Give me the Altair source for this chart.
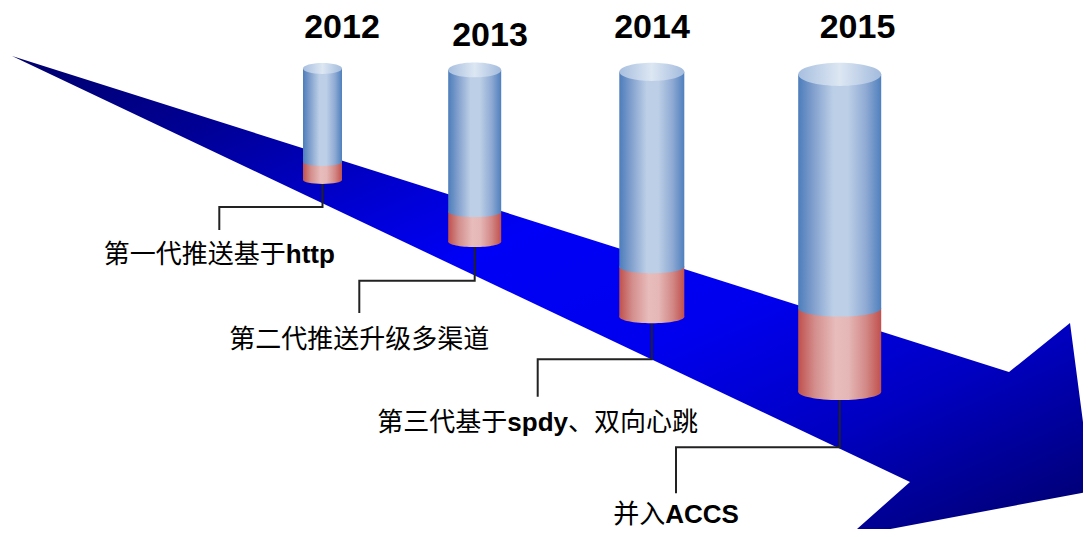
import re
import altair as alt
import pandas as pd

# ---------------- data ----------------
years = ["2012", "2013", "2014", "2015"]
milestones = ["第一代推送基于http", "第二代推送升级多渠道", "第三代基于spdy、双向心跳", "并入ACCS"]

cyl_center = [322.5, 474.7, 651.8, 839.7]
cyl_diameter = [39, 53, 65, 83]
cyl_top = [63.0, 62.5, 62.7, 62.7]
cyl_split = [162.0, 211.7, 266.7, 308.3]
cyl_base = [180.0, 241.7, 316.7, 391.7]

year_x = [342.0, 490.0, 652.0, 857.5]
year_y = [38.3, 46.0, 38.3, 38.3]

elbow_y = [207.0, 280.7, 359.3, 447.3]
label_x = [219.3, 359.3, 537.7, 676.0]
leg_end_y = [230.0, 313.0, 396.7, 493.3]
label_y = [262.5, 347.5, 430.5, 523.0]

arrow_x = [12, 1009, 1070, 1092, 848, 910]
arrow_y = [56, 372, 323, 491, 537, 482]

# ---------------- layout / styles ----------------
W, H = 1075, 521
xs = alt.Scale(domain=[8, 8 + W], nice=False, zero=False)
ys = alt.Scale(domain=[8, 8 + H], nice=False, zero=False, reverse=True)
LID_RATIO = 0.28
BASE_RATIO = 0.2
LID_PATH = f"M -1 0 A 1 {LID_RATIO} 0 1 1 1 0 A 1 {LID_RATIO} 0 1 1 -1 0 Z"
BASE_PATH = f"M -1 0 A 1 {BASE_RATIO} 0 1 1 1 0 A 1 {BASE_RATIO} 0 1 1 -1 0 Z"
LABEL_FS = 26
YEAR_FS = 34
LAT_W = {'h': 0.611, 't': 0.333, 'p': 0.611, 's': 0.556, 'd': 0.611, 'y': 0.556,
         'A': 0.722, 'C': 0.722, 'S': 0.667}


def grad(stops, x2=1, y2=0):
    return alt.LinearGradient(
        gradient="linear",
        stops=[alt.GradientStop(color=c, offset=o) for o, c in stops],
        x1=0, y1=0, x2=x2, y2=y2)


arrow_grad = grad([(0, "#00006c"), (0.16, "#000094"), (0.3, "#0000cc"), (0.42, "#0000f6"),
                   (0.6, "#0000ee"), (0.77, "#0000c2"), (0.95, "#00007a"), (1, "#000070")], x2=1, y2=1)
blue_grad = grad([(0, "#4c7dbb"), (0.2, "#86a3cf"), (0.42, "#bccfe7"), (0.6, "#bccfe6"),
                  (0.82, "#8ea9d3"), (1, "#4f80bd")])
red_grad = grad([(0, "#c0504d"), (0.2, "#d38e8c"), (0.45, "#e7bcbb"), (0.6, "#e5b8b7"),
                 (0.82, "#d28886"), (1, "#c0504d")])
lid_grad = grad([(0, "#a7bfdf"), (0.5, "#dde7f3"), (1, "#a3bbdd")])


def X(f):
    return alt.X(f, type="quantitative", scale=xs, axis=None)


def Y(f):
    return alt.Y(f, type="quantitative", scale=ys, axis=None)


# arrow polygon
arrow_df = pd.DataFrame({"x": arrow_x, "y": arrow_y, "o": list(range(len(arrow_x)))})
arrow = alt.Chart(arrow_df).mark_line(
    interpolate="linear-closed", fill=arrow_grad, strokeWidth=0, strokeOpacity=0
).encode(x=X("x"), y=Y("y"), order=alt.Order("o:Q"))

# cylinders
rows = []
for i in range(len(years)):
    rx = cyl_diameter[i] / 2
    rows.append({
        "cx": cyl_center[i], "x0": cyl_center[i] - rx, "x1": cyl_center[i] + rx,
        "yt": cyl_top[i] + LID_RATIO * rx, "ys": cyl_split[i], "yb": cyl_base[i],
        "s": cyl_diameter[i] ** 2,
    })
cyl_df = pd.DataFrame(rows)
base = alt.Chart(cyl_df)
red_body = base.mark_rect(fill=red_grad).encode(x=X("x0"), x2="x1", y=Y("ys"), y2="yb")
red_base = base.mark_point(filled=True, fill=red_grad, shape=BASE_PATH, opacity=1, strokeWidth=0).encode(
    x=X("cx"), y=Y("yb"), size=alt.Size("s:Q", scale=None))
blue_body = base.mark_rect(fill=blue_grad).encode(x=X("x0"), x2="x1", y=Y("yt"), y2="ys")
blue_split = base.mark_point(filled=True, fill=blue_grad, shape=BASE_PATH, opacity=1, strokeWidth=0).encode(
    x=X("cx"), y=Y("ys"), size=alt.Size("s:Q", scale=None))
lid = base.mark_point(filled=True, fill=lid_grad, shape=LID_PATH, opacity=1, strokeWidth=0).encode(
    x=X("cx"), y=Y("yt"), size=alt.Size("s:Q", scale=None))

# connectors
crow = []
for i in range(len(years)):
    rx = cyl_diameter[i] / 2
    pts = [(cyl_center[i], cyl_base[i] + BASE_RATIO * rx), (cyl_center[i], elbow_y[i]),
           (label_x[i], elbow_y[i]), (label_x[i], leg_end_y[i])]
    for k, (px, py) in enumerate(pts):
        crow.append({"id": i, "o": k, "x": px, "y": py})
conn = alt.Chart(pd.DataFrame(crow)).mark_line(color="#222222", strokeWidth=2).encode(
    x=X("x"), y=Y("y"), detail="id:N", order=alt.Order("o:Q"))

# year labels
year_df = pd.DataFrame({"t": years, "x": year_x, "y": year_y})
year_text = alt.Chart(year_df).mark_text(
    font="Liberation Sans", fontWeight="bold", fontSize=YEAR_FS, align="center",
    baseline="alphabetic", color="#000000").encode(x=X("x"), y=Y("y"), text="t:N")

# milestone labels, CJK runs in regular weight, latin runs in bold
seg_rows = []
for i, s in enumerate(milestones):
    runs = re.findall(r"[A-Za-z]+|[^A-Za-z]+", s)
    widths = []
    for r in runs:
        if re.match(r"[A-Za-z]", r):
            widths.append(sum(LAT_W.get(c, 0.6) for c in r) * LABEL_FS)
        else:
            widths.append(len(r) * LABEL_FS)
    start = label_x[i] - sum(widths) / 2
    for r, w in zip(runs, widths):
        seg_rows.append({"t": r, "x": start, "y": label_y[i],
                         "lat": bool(re.match(r"[A-Za-z]", r))})
        start += w
seg_df = pd.DataFrame(seg_rows)
cjk_text = alt.Chart(seg_df[~seg_df["lat"]]).mark_text(
    font="Noto Sans CJK SC", fontSize=LABEL_FS, align="left", baseline="alphabetic",
    color="#000000").encode(x=X("x"), y=Y("y"), text="t:N")
lat_text = alt.Chart(seg_df[seg_df["lat"]]).mark_text(
    font="Liberation Sans", fontWeight="bold", fontSize=LABEL_FS, align="left",
    baseline="alphabetic", color="#000000").encode(x=X("x"), y=Y("y"), text="t:N")

chart = alt.layer(
    arrow, conn, red_body, red_base, blue_body, blue_split, lid, year_text, cjk_text, lat_text
).properties(
    width=W, height=H, padding=0, background="white",
    autosize=alt.AutoSizeParams(type="none"),
).configure_view(strokeWidth=0)

chart.save("out.html", embed_options={"renderer": "svg", "actions": False})
